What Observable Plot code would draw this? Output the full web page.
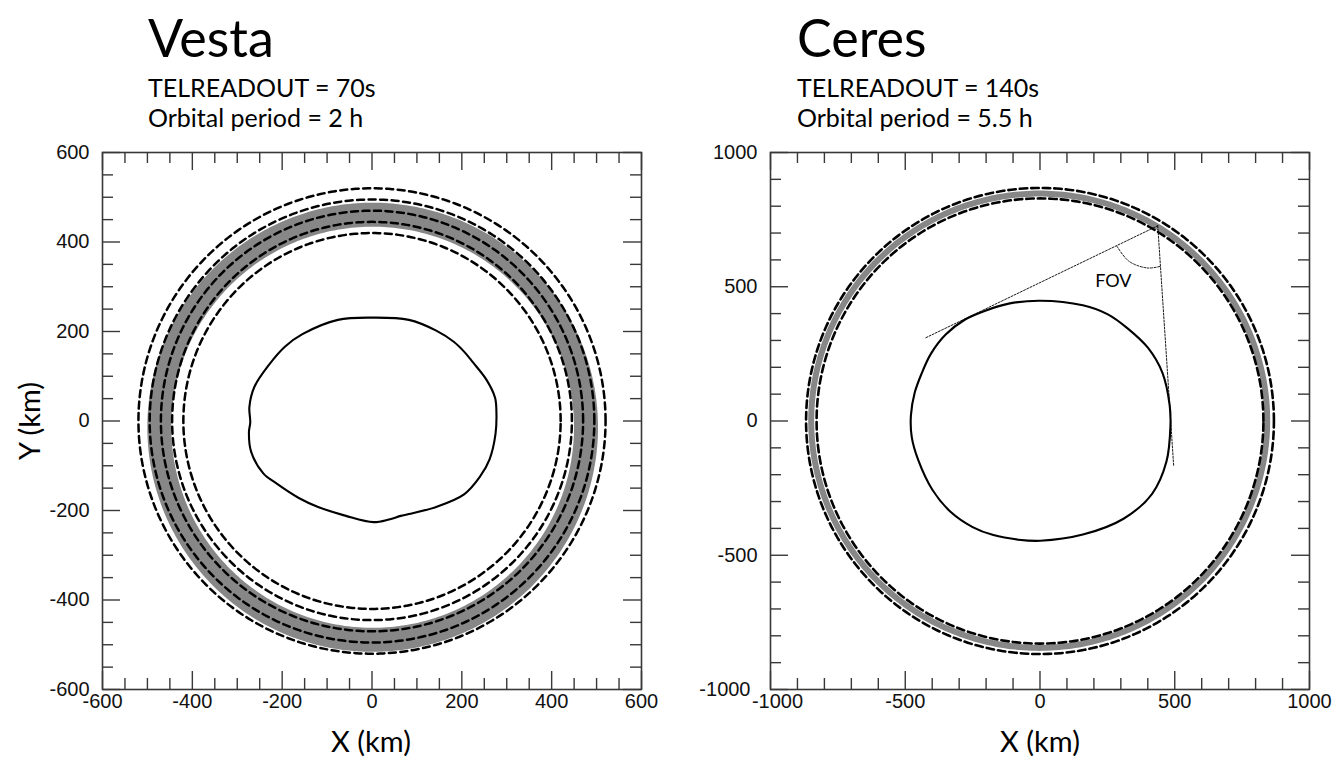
<!DOCTYPE html>
<html>
<head>
<meta charset="utf-8">
<script src="https://cdn.jsdelivr.net/npm/d3@7"></script>
<script src="https://cdn.jsdelivr.net/npm/@observablehq/plot@0.6"></script>
<style>
  body { margin: 0; background: #fff; }
  #page { position: relative; width: 1338px; height: 773px; overflow: hidden; background: #fff; }
  .panel { position: absolute; top: 140px; }
  #labels { position: absolute; left: 0; top: 0; pointer-events: none; }
</style>
</head>
<body>
<div id="page">
  <div id="vesta" class="panel" style="left:0px"></div>
  <div id="ceres" class="panel" style="left:680px"></div>
</div>
<script>
// ---------- Vesta (km) ----------
const vestaMajorTicks = [-600, -400, -200, 0, 200, 400, 600];
const vestaMinorTicks = [-550, -500, -450, -350, -300, -250, -150, -100, -50,
                         50, 100, 150, 250, 300, 350, 450, 500, 550];
// body outline in the orbital plane
const vestaOutline = [
  [3, 231], [-76, 226], [-155, 194], [-194, 166], [-229, 126], [-262, 76],
  [-273, 31], [-271, -3], [-274, -25], [-269, -69], [-242, -117], [-212, -140],
  [-163, -172], [-120, -192], [-58, -212], [3, -226], [38, -220], [64, -212],
  [82, -208], [143, -192], [205, -164], [240, -125], [262, -85], [275, -29],
  [277, 19], [274, 52], [255, 92], [224, 132], [205, 155], [182, 177],
  [143, 202], [82, 226]
];
// altitude limits (dashed circles) and the simulated orbit track
const vestaLimitRadii = [420, 445, 470, 495, 520];
const vestaTrackCenter = [1.5, -14];
const vestaTrackRadius = 475;

// ---------- Ceres (km) ----------
const ceresMajorTicks = [-1000, -500, 0, 500, 1000];
const ceresMinorTicks = [-900, -800, -700, -600, -400, -300, -200, -100,
                         100, 200, 300, 400, 600, 700, 800, 900];
const ceresOutline = [
  [1, 448], [-112, 438], [-203, 411], [-278, 378], [-350, 322], [-405, 250],
  [-440, 175], [-465, 105], [-479, 21], [-476, -59], [-452, -145], [-400, -255],
  [-330, -340], [-250, -395], [-173, -425], [-80, -442], [1, -446], [159, -423],
  [310, -364], [416, -271], [469, -152], [484, -19], [481, 60], [454, 180],
  [401, 272], [325, 345], [250, 398], [159, 431]
];
const ceresLimitRadii = [829, 868];
const ceresTrackCenter = [-3, 1];
const ceresTrackRadius = 846;
// camera field of view seen from the spacecraft
const fovApex = [437, 727];
const fovEdges = [[-424, 310], [496, -167]];
const fovArc = [[286, 650], [330, 595], [398, 570], [447, 576]];
const fovLabel = [{x: 272, y: 520, text: "FOV"}];

// closed circle path of radius r around (cx, cy)
function ring(r, [cx, cy] = [0, 0], n = 360) {
  return d3.range(n).map(i => {
    const a = (i / n) * 2 * Math.PI;
    return [cx + r * Math.cos(a), cy + r * Math.sin(a)];
  });
}

const FRAME_W = 539, FRAME_H = 537, MT = 12, MB = 44;
const INK = "#383838";

function panel(o) {
  const width = o.marginLeft + FRAME_W + o.marginRight;
  const height = MT + FRAME_H + MB;
  const tick = {stroke: INK, strokeWidth: 1.4};
  const label = {tickSize: 0, tickFormat: d => String(d), fontSize: 20, fill: "#111", label: null};
  const corner = o.major[0];
  const rest = o.major.slice(1);
  const nudge = o.cornerNudge || 0;
  return Plot.plot({
    width, height,
    marginLeft: o.marginLeft, marginRight: o.marginRight, marginTop: MT, marginBottom: MB,
    x: {domain: o.domain, label: null},
    y: {domain: o.domain, label: null},
    style: {background: "transparent", overflow: "visible",
            fontFamily: "'Liberation Sans', Arial, Helvetica, sans-serif"},
    marks: [
      Plot.line(ring(o.trackRadius, o.trackCenter), {
        x: d => d[0], y: d => d[1], curve: "linear-closed",
        stroke: "#878787", strokeWidth: o.trackWidth
      }),
      ...o.limitRadii.map(r => Plot.line(ring(r), {
        x: d => d[0], y: d => d[1], curve: "linear-closed",
        stroke: "#000", strokeWidth: o.dashWidth, strokeDasharray: o.dash
      })),
      Plot.line(o.outline, {
        x: d => d[0], y: d => d[1], curve: "catmull-rom-closed",
        stroke: "#000", strokeWidth: 2.1
      }),
      ...(o.extra || []),
      // inward ticks on all four sides
      Plot.tickX(o.major, {x: d => d, insetTop: FRAME_H - 18, ...tick}),
      Plot.tickX(o.major, {x: d => d, insetBottom: FRAME_H - 18, ...tick}),
      Plot.tickX(o.minor, {x: d => d, insetTop: FRAME_H - 11, ...tick}),
      Plot.tickX(o.minor, {x: d => d, insetBottom: FRAME_H - 11, ...tick}),
      Plot.tickY(o.major, {y: d => d, insetRight: FRAME_W - 18, ...tick}),
      Plot.tickY(o.major, {y: d => d, insetLeft: FRAME_W - 18, ...tick}),
      Plot.tickY(o.minor, {y: d => d, insetRight: FRAME_W - 11, ...tick}),
      Plot.tickY(o.minor, {y: d => d, insetLeft: FRAME_W - 11, ...tick}),
      Plot.frame({stroke: INK, strokeWidth: 1.6}),
      // tick labels; the two labels meeting at the lower-left corner are eased apart
      Plot.axisX(rest, {anchor: "bottom", tickPadding: 4, ...label}),
      Plot.axisX([corner], {anchor: "bottom", tickPadding: 4, dx: nudge, ...label}),
      Plot.axisY(rest, {anchor: "left", tickPadding: 13, ...label}),
      Plot.axisY([corner], {anchor: "left", tickPadding: 13 + nudge, ...label})
    ]
  });
}

document.getElementById("vesta").append(panel({
  marginLeft: 102, marginRight: 39, domain: [-600, 600],
  major: vestaMajorTicks, minor: vestaMinorTicks,
  outline: vestaOutline, limitRadii: vestaLimitRadii,
  trackCenter: vestaTrackCenter, trackRadius: vestaTrackRadius, trackWidth: 24,
  dashWidth: 2.5, dash: "7,4.5"
}));

const fovLine = {stroke: "#000", strokeWidth: 0.9, strokeDasharray: "2,1.5"};
document.getElementById("ceres").append(panel({
  marginLeft: 90, marginRight: 29, domain: [-1000, 1000],
  major: ceresMajorTicks, minor: ceresMinorTicks,
  outline: ceresOutline, limitRadii: ceresLimitRadii,
  trackCenter: ceresTrackCenter, trackRadius: ceresTrackRadius, trackWidth: 6,
  dashWidth: 2.6, dash: "7.5,4", cornerNudge: 7,
  extra: [
    ...fovEdges.map(e => Plot.line([fovApex, e], {x: d => d[0], y: d => d[1], ...fovLine})),
    Plot.line(fovArc, {x: d => d[0], y: d => d[1], curve: "catmull-rom", ...fovLine}),
    Plot.text(fovLabel, {x: "x", y: "y", text: "text", fontSize: 18,
      fontFamily: "Lato, 'Open Sans', sans-serif", fill: "#000"})
  ]
}));

// titles, run parameters and axis names
const labels = [
  {x: 148, y: 57, text: "Vesta", size: 52},
  {x: 148, y: 97, text: "TELREADOUT = 70s", size: 25},
  {x: 148, y: 127, text: "Orbital period = 2 h", size: 25},
  {x: 797, y: 57, text: "Ceres", size: 52},
  {x: 797, y: 97, text: "TELREADOUT = 140s", size: 25},
  {x: 797, y: 127, text: "Orbital period = 5.5 h", size: 25},
  {x: 371, y: 752, text: "X (km)", size: 29, anchor: "middle"},
  {x: 1040, y: 752, text: "X (km)", size: 29, anchor: "middle"},
  {x: 40, y: 421, text: "Y (km)", size: 29, anchor: "middle", rotate: -90}
];
const svg = d3.select("#page").append("svg").attr("id", "labels")
  .attr("width", 1338).attr("height", 773);
svg.selectAll("text").data(labels).join("text")
  .attr("transform", d => `translate(${d.x},${d.y}) rotate(${d.rotate || 0})`)
  .attr("text-anchor", d => d.anchor || "start")
  .attr("font-family", "Lato, 'Open Sans', sans-serif")
  .attr("font-size", d => d.size)
  .attr("fill", "#000")
  .text(d => d.text);
</script>
</body>
</html>
